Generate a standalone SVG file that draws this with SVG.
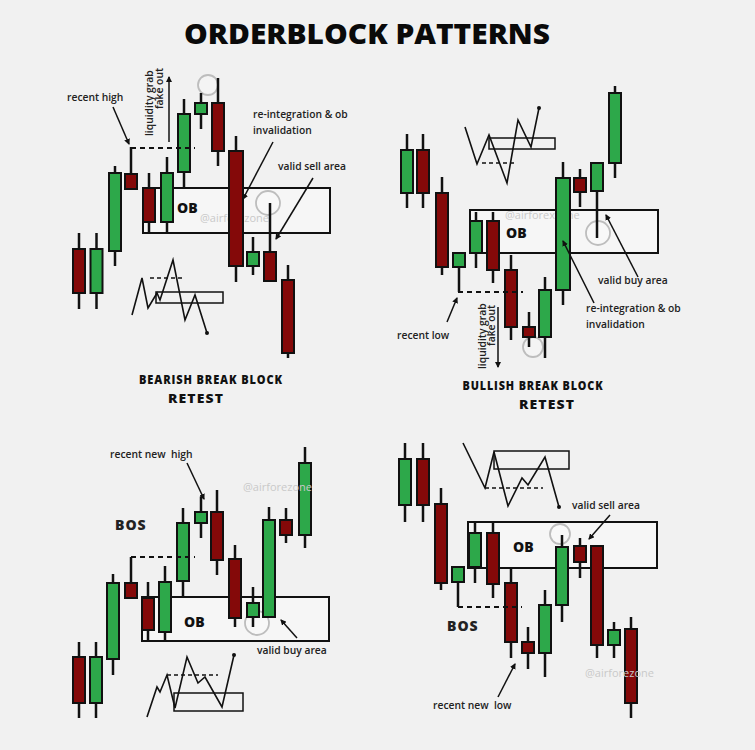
<svg xmlns="http://www.w3.org/2000/svg" width="755" height="750" viewBox="0 0 755 750">
<style>
.bg{fill:#f1f1f1}
.wk{stroke:#111;stroke-width:2.5}
.g{fill:#2da84a;stroke:#111;stroke-width:2}
.r{fill:#840909;stroke:#111;stroke-width:2}
.ob{fill:#f6f6f6;stroke:#111;stroke-width:2}
.obt{font-family:"Open Sans","DejaVu Sans",sans-serif;font-weight:800;font-size:14px;fill:#111}
.lb{font-family:"Open Sans","DejaVu Sans",sans-serif;font-weight:600;font-size:10.3px;fill:#222;white-space:pre}
.bos{font-family:"Open Sans","DejaVu Sans",sans-serif;font-weight:800;font-size:14px;fill:#222;letter-spacing:1px}
.sub{font-family:"Open Sans","DejaVu Sans",sans-serif;font-weight:800;font-size:12.5px;fill:#111;letter-spacing:1px;text-anchor:middle}
.ttl{font-family:"Open Sans","DejaVu Sans",sans-serif;font-weight:800;font-size:29px;fill:#0a0a0a;text-anchor:middle}
.wm{font-family:"Open Sans","DejaVu Sans",sans-serif;font-size:11px;fill:#c9c9c9}
.dash{stroke:#111;stroke-width:2.2;stroke-dasharray:5,4;fill:none}
.mdash{stroke:#111;stroke-width:1.5;stroke-dasharray:4,3;fill:none}
.ptr{stroke:#111;stroke-width:1.5;fill:none;marker-end:url(#ah)}
.zz{stroke:#111;stroke-width:1.6;fill:none;stroke-linejoin:miter}
.mb{fill:none;stroke:#111;stroke-width:1.5}
.cir{fill:#ffffff;fill-opacity:0.25;stroke:#bdbdbd;stroke-width:1.8}
</style>
<defs>
<marker id="ah" viewBox="0 0 6 6" refX="5" refY="3" markerWidth="4" markerHeight="4" orient="auto">
<path d="M0,0L6,3L0,6z" fill="#111"/>
</marker>
</defs>
<rect class="bg" x="0" y="0" width="755" height="750"/>
<text class="ttl" x="367" y="44" textLength="366" lengthAdjust="spacingAndGlyphs">ORDERBLOCK PATTERNS</text>

<!-- ========== TOP LEFT: BEARISH ========== -->
<g id="tl-ob"><rect class="ob" x="143" y="188" width="187" height="45"/><text class="wm" x="200" y="222">@airforezone</text><text class="obt" x="177" y="213">OB</text></g>
<g id="tl-circles"><circle class="cir" cx="208" cy="85" r="10"/><circle class="cir" cx="268" cy="203" r="12"/></g>
<g id="tl-c1"><line class="wk" x1="79" y1="233" x2="79" y2="309"/><rect class="r" x="73" y="249" width="12" height="44"/></g>
<g id="tl-c2"><line class="wk" x1="96.5" y1="233" x2="96.5" y2="309"/><rect class="g" x="90.5" y="249" width="12" height="44"/></g>
<g id="tl-c3"><line class="wk" x1="115" y1="166" x2="115" y2="266"/><rect class="g" x="109" y="173" width="12" height="78"/></g>
<g id="tl-c4"><line class="wk" x1="131" y1="147" x2="131" y2="189"/><rect class="r" x="125" y="174" width="12" height="15"/></g>
<g id="tl-c5"><line class="wk" x1="149" y1="173" x2="149" y2="232"/><rect class="r" x="143" y="188" width="12" height="34"/></g>
<g id="tl-c6"><line class="wk" x1="167" y1="157" x2="167" y2="232"/><rect class="g" x="161" y="173" width="12" height="49"/></g>
<g id="tl-c7"><line class="wk" x1="184" y1="99" x2="184" y2="188"/><rect class="g" x="178" y="114" width="12" height="58"/></g>
<g id="tl-c8"><line class="wk" x1="201" y1="93" x2="201" y2="129"/><rect class="g" x="195" y="103" width="12" height="11"/></g>
<g id="tl-c9"><line class="wk" x1="218" y1="78" x2="218" y2="166"/><rect class="r" x="212" y="103" width="12" height="48"/></g>
<g id="tl-c10"><line class="wk" x1="236" y1="136" x2="236" y2="282"/><rect class="r" x="229" y="151" width="14" height="115"/></g>
<g id="tl-c11"><line class="wk" x1="253" y1="237" x2="253" y2="275"/><rect class="g" x="247" y="252" width="12" height="14"/></g>
<g id="tl-c12"><line class="wk" x1="270" y1="203" x2="270" y2="281"/><rect class="r" x="264" y="252" width="12" height="29"/></g>
<g id="tl-c13"><line class="wk" x1="288" y1="265" x2="288" y2="358"/><rect class="r" x="282" y="280" width="12" height="73"/></g>
<g id="tl-labels">
<text class="lb" x="67" y="101">recent high</text>
<text class="lb" transform="translate(153,136) rotate(-90)">liquidity grab</text>
<text class="lb" transform="translate(163,68) rotate(-90)" text-anchor="end">fake out</text>
<text class="lb" x="253" y="118">re-integration &amp; ob</text>
<text class="lb" x="253" y="134">invalidation</text>
<text class="lb" x="278" y="170">valid sell area</text>
</g>
<g id="tl-mini">
<polyline class="zz" points="132,315 142,278 148,308 157,293 160,300 173,260 185,320 195,295 207,333"/>
<line class="mdash" x1="150" y1="278" x2="182" y2="278"/>
<rect class="mb" x="156" y="292" width="67" height="11"/>
<circle cx="207" cy="333" r="2" fill="#111"/>
</g>
<text class="sub" x="211" y="384" textLength="144" lengthAdjust="spacingAndGlyphs">BEARISH BREAK BLOCK</text>
<text class="sub" x="196" y="403" textLength="56" lengthAdjust="spacingAndGlyphs">RETEST</text>

<!-- ========== TOP RIGHT: BULLISH ========== -->
<g id="tr-ob"><rect class="ob" x="470" y="210" width="188" height="43"/><text class="wm" x="505" y="219">@airforexzone</text><text class="obt" x="506" y="238">OB</text></g>
<g id="tr-circles"><circle class="cir" cx="598" cy="233" r="12"/><circle class="cir" cx="533" cy="347" r="10"/></g>
<g id="tr-c1"><line class="wk" x1="407" y1="134" x2="407" y2="208"/><rect class="g" x="401" y="150" width="12" height="43"/></g>
<g id="tr-c2"><line class="wk" x1="423" y1="134" x2="423" y2="208"/><rect class="r" x="417" y="150" width="12" height="43"/></g>
<g id="tr-c3"><line class="wk" x1="442" y1="177" x2="442" y2="275"/><rect class="r" x="436" y="193" width="12" height="74"/></g>
<g id="tr-c4"><line class="wk" x1="459" y1="253" x2="459" y2="292"/><rect class="g" x="453" y="253" width="12" height="14"/></g>
<g id="tr-c5"><line class="wk" x1="476" y1="212" x2="476" y2="268"/><rect class="g" x="470" y="221" width="12" height="32"/></g>
<g id="tr-c6"><line class="wk" x1="493" y1="212" x2="493" y2="283"/><rect class="r" x="487" y="221" width="12" height="49"/></g>
<g id="tr-c7"><line class="wk" x1="511" y1="255" x2="511" y2="340"/><rect class="r" x="505" y="270" width="12" height="57"/></g>
<g id="tr-c8"><line class="wk" x1="529" y1="312" x2="529" y2="347"/><rect class="r" x="523" y="327" width="12" height="10"/></g>
<g id="tr-c9"><line class="wk" x1="545" y1="277" x2="545" y2="358"/><rect class="g" x="539" y="290" width="12" height="47"/></g>
<g id="tr-c10"><line class="wk" x1="563" y1="162" x2="563" y2="305"/><rect class="g" x="556" y="178" width="14" height="112"/></g>
<g id="tr-c11"><line class="wk" x1="580" y1="169" x2="580" y2="207"/><rect class="r" x="574" y="178" width="12" height="14"/></g>
<g id="tr-c12"><line class="wk" x1="597" y1="163" x2="597" y2="238"/><rect class="g" x="591" y="163" width="12" height="28"/></g>
<g id="tr-c13"><line class="wk" x1="615" y1="86" x2="615" y2="178"/><rect class="g" x="609" y="93" width="12" height="70"/></g>
<g id="tr-labels">
<text class="lb" x="397" y="339">recent low</text>
<text class="lb" transform="translate(486,369) rotate(-90)">liquidity grab</text>
<text class="lb" transform="translate(495,346) rotate(-90)">fake out</text>
<text class="lb" x="598" y="284">valid buy area</text>
<text class="lb" x="586" y="312">re-integration &amp; ob</text>
<text class="lb" x="586" y="328">invalidation</text>
</g>
<g id="tr-mini">
<polyline class="zz" points="465,127 477,164 489,135 507,183 518,120 531,147 539,108"/>
<line class="mdash" x1="482" y1="163" x2="515" y2="163"/>
<rect class="mb" x="489" y="138" width="66" height="11"/>
<circle cx="539" cy="108" r="2" fill="#111"/>
</g>
<text class="sub" x="533" y="390" textLength="141" lengthAdjust="spacingAndGlyphs">BULLISH BREAK BLOCK</text>
<text class="sub" x="547" y="409" textLength="56" lengthAdjust="spacingAndGlyphs">RETEST</text>

<!-- ========== BOTTOM LEFT: BOS bullish ========== -->
<g id="bl-ob"><rect class="ob" x="142" y="597" width="187" height="44"/><text class="obt" x="184" y="627">OB</text></g>
<g id="bl-circles"><circle class="cir" cx="257" cy="623" r="12"/></g>
<g id="bl-c1"><line class="wk" x1="79" y1="642" x2="79" y2="718"/><rect class="r" x="73" y="657" width="12" height="46"/></g>
<g id="bl-c2"><line class="wk" x1="96" y1="642" x2="96" y2="718"/><rect class="g" x="90" y="657" width="12" height="46"/></g>
<g id="bl-c3"><line class="wk" x1="113" y1="574" x2="113" y2="675"/><rect class="g" x="107" y="583" width="12" height="76"/></g>
<g id="bl-c4"><line class="wk" x1="131" y1="557" x2="131" y2="598"/><rect class="r" x="125" y="583" width="12" height="15"/></g>
<g id="bl-c5"><line class="wk" x1="148" y1="582" x2="148" y2="642"/><rect class="r" x="142" y="598" width="12" height="32"/></g>
<g id="bl-c6"><line class="wk" x1="165" y1="566" x2="165" y2="642"/><rect class="g" x="159" y="582" width="12" height="50"/></g>
<g id="bl-c7"><line class="wk" x1="183" y1="508" x2="183" y2="597"/><rect class="g" x="177" y="523" width="12" height="58"/></g>
<g id="bl-c8"><line class="wk" x1="201" y1="497" x2="201" y2="538"/><rect class="g" x="195" y="512" width="12" height="11"/></g>
<g id="bl-c9"><line class="wk" x1="217" y1="490" x2="217" y2="575"/><rect class="r" x="211" y="512" width="12" height="48"/></g>
<g id="bl-c10"><line class="wk" x1="235" y1="545" x2="235" y2="627"/><rect class="r" x="229" y="559" width="12" height="59"/></g>
<g id="bl-c11"><line class="wk" x1="253" y1="587" x2="253" y2="627"/><rect class="g" x="247" y="603" width="12" height="14"/></g>
<g id="bl-c12"><line class="wk" x1="269" y1="507" x2="269" y2="617"/><rect class="g" x="263" y="520" width="12" height="97"/></g>
<g id="bl-c13"><line class="wk" x1="286" y1="508" x2="286" y2="543"/><rect class="r" x="280" y="520" width="12" height="15"/></g>
<g id="bl-c14"><line class="wk" x1="305" y1="447" x2="305" y2="548"/><rect class="g" x="299" y="463" width="12" height="72"/></g>
<g id="bl-labels">
<text class="lb" x="110" y="458" xml:space="preserve">recent new  high</text>
<text class="bos" x="115" y="530">BOS</text>
<text class="lb" x="257" y="654">valid buy area</text>
<text class="wm" x="243" y="491">@airforezone</text>
</g>
<g id="bl-mini">
<polyline class="zz" points="147,717 157,687 160,692 167,675 175,708 187,657 198,683 205,677 222,707 234,655"/>
<line class="mdash" x1="167" y1="675" x2="218" y2="675"/>
<rect class="mb" x="174" y="693" width="69" height="18"/>
<circle cx="234" cy="655" r="2" fill="#111"/>
</g>

<!-- ========== BOTTOM RIGHT: BOS bearish ========== -->
<g id="br-ob"><rect class="ob" x="468" y="522" width="189" height="46"/><text class="obt" x="513" y="552">OB</text></g>
<g id="br-circles"><circle class="cir" cx="560" cy="534" r="10"/></g>
<g id="br-c1"><line class="wk" x1="405" y1="443" x2="405" y2="522"/><rect class="g" x="399" y="459" width="12" height="46"/></g>
<g id="br-c2"><line class="wk" x1="423" y1="443" x2="423" y2="522"/><rect class="r" x="417" y="459" width="12" height="46"/></g>
<g id="br-c3"><line class="wk" x1="441" y1="488" x2="441" y2="590"/><rect class="r" x="435" y="504" width="12" height="79"/></g>
<g id="br-c4"><line class="wk" x1="458" y1="567" x2="458" y2="607"/><rect class="g" x="452" y="567" width="12" height="15"/></g>
<g id="br-c5"><line class="wk" x1="475" y1="523" x2="475" y2="583"/><rect class="g" x="469" y="533" width="12" height="34"/></g>
<g id="br-c6"><line class="wk" x1="493" y1="523" x2="493" y2="598"/><rect class="r" x="487" y="533" width="12" height="51"/></g>
<g id="br-c7"><line class="wk" x1="511" y1="568" x2="511" y2="658"/><rect class="r" x="505" y="583" width="12" height="59"/></g>
<g id="br-c8"><line class="wk" x1="528" y1="627" x2="528" y2="669"/><rect class="r" x="522" y="642" width="12" height="11"/></g>
<g id="br-c9"><line class="wk" x1="545" y1="590" x2="545" y2="677"/><rect class="g" x="539" y="605" width="12" height="48"/></g>
<g id="br-c10"><line class="wk" x1="562" y1="535" x2="562" y2="622"/><rect class="g" x="556" y="547" width="12" height="58"/></g>
<g id="br-c11"><line class="wk" x1="580" y1="538" x2="580" y2="578"/><rect class="r" x="574" y="546" width="12" height="16"/></g>
<g id="br-c12"><line class="wk" x1="597" y1="546" x2="597" y2="658"/><rect class="r" x="591" y="546" width="12" height="99"/></g>
<g id="br-c13"><line class="wk" x1="614" y1="622" x2="614" y2="658"/><rect class="g" x="608" y="630" width="12" height="15"/></g>
<g id="br-c14"><line class="wk" x1="631" y1="617" x2="631" y2="718"/><rect class="r" x="625" y="629" width="12" height="74"/></g>
<g id="br-labels">
<text class="lb" x="572" y="509">valid sell area</text>
<text class="bos" x="447" y="631">BOS</text>
<text class="lb" x="433" y="709" xml:space="preserve">recent new  low</text>
<text class="wm" x="585" y="677">@airforezone</text>
</g>
<g id="br-mini">
<polyline class="zz" points="463,443 485,488 494,452 508,506 522,478 528,485 545,457 559,507"/>
<line class="mdash" x1="485" y1="488" x2="543" y2="488"/>
<rect class="mb" x="494" y="451" width="75" height="18"/>
<circle cx="559" cy="507" r="2" fill="#111"/>
</g>

<!-- ========== CONNECTORS ========== -->
<g id="connectors">
<line class="dash" x1="131" y1="148" x2="195" y2="148"/>
<line class="dash" x1="458" y1="292" x2="523" y2="292"/>
<line class="dash" x1="131" y1="557" x2="195" y2="557"/>
<line class="dash" x1="458" y1="607" x2="522" y2="607"/>
<line class="ptr" x1="113" y1="107" x2="129" y2="144"/>
<line class="ptr" x1="169" y1="142" x2="169" y2="77"/>
<line class="ptr" x1="273" y1="142" x2="243" y2="199"/>
<line class="ptr" x1="313" y1="178" x2="276" y2="239"/>
<line class="ptr" x1="447" y1="322" x2="457" y2="298"/>
<line class="ptr" x1="498" y1="307" x2="498" y2="367"/>
<line class="ptr" x1="638" y1="277" x2="606" y2="215"/>
<line class="ptr" x1="594" y1="303" x2="563" y2="241"/>
<line class="ptr" x1="187" y1="463" x2="204" y2="499"/>
<line class="ptr" x1="297" y1="638" x2="281" y2="620"/>
<line class="ptr" x1="610" y1="515" x2="589" y2="539"/>
<line class="ptr" x1="498" y1="697" x2="515" y2="664"/>
</g>
</svg>
